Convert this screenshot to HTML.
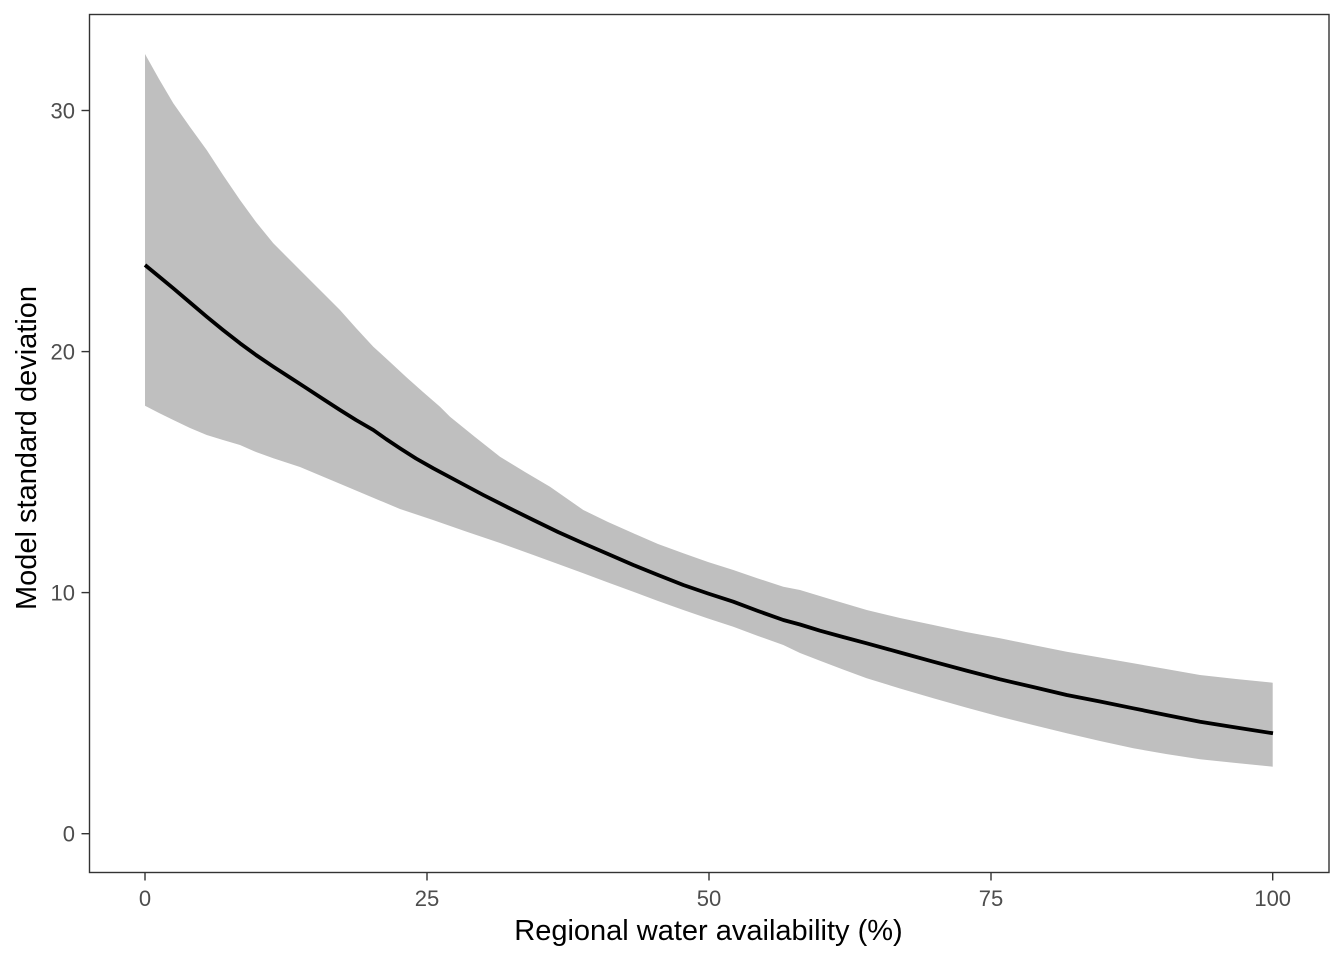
<!DOCTYPE html>
<html>
<head>
<meta charset="utf-8">
<style>
  html, body { margin: 0; padding: 0; background: #ffffff; }
  svg { display: block; }
  text { font-family: "Liberation Sans", Arial, sans-serif; }
</style>
</head>
<body>
<svg width="1344" height="960" viewBox="0 0 1344 960" xmlns="http://www.w3.org/2000/svg">
  <rect x="0" y="0" width="1344" height="960" fill="#ffffff"/>

  <!-- ribbon -->
  <polygon fill="#bfbfbf" stroke="none" points="
    145,54 159,79 173.3,103.3 190,127 206.7,150 223,175 240,200 256,222 273.3,243.3 290,260 306.7,276.7 323,293 340,310 356,328 373.3,346.7
    390,362 406.7,377.5 423,392 440,406.7 450,416.7 475,437 500,456.7 525,472 550,486.7 583.3,510 608,522 633.3,533.3 658,544 683.3,553.3
    708,562 733.3,570 758,578.5 783.3,586.7 800,590 833,600 866.7,610 900,618 933.3,625 966,632 1000,638.3 1033,645 1066.7,651.7 1100,657.5 1133.3,663.3
    1166,669 1200,675 1236,679 1272.7,682.7
    1272.7,766.7 1236,763 1200,759.3 1166,754 1133.3,748.3 1100,741 1066.7,733.3 1033,725 1000,716.7 966,707.5 933.3,698.3 900,688.5 866.7,678.3
    843,669.5 820,660.7 800,653 783.3,645 758,636 733.3,626.7 708,618.5 683.3,610 658,601 633.3,591.7 608,582.5 583.3,573.3 558,564 533.3,555 500,543 466.7,531.7
    433,520 400,509 350,488 300,467 273.3,458.3 256,452 240,445 223,440 206.7,435 190,428 173.3,420 159,413 145,405.7"/>

  <!-- mean line -->
  <polyline fill="none" stroke="#000000" stroke-width="3.8" stroke-linejoin="round" stroke-linecap="butt" points="
    145,265 159,276.5 173.3,288.3 190,302.5 206.7,316.7 223,330 240,343.3 256,355 273.3,366.7 290,377.5 306.7,388.3 323,399 340,410 356,420 373.3,430
    386,439 400,448.3 416,458.5 433.3,468.3 458,481.5 483.3,495 508,507.5 533.3,520 558,532 583.3,543.3 608,554 633.3,565 658,575 683.3,585 708,593.5 733.3,601.7
    758,611 783.3,620 800,624.5 820,630.7 843,637 866.7,643.3 900,652.5 933.3,661.7 966,670.5 1000,679.3 1033,687 1066.7,695 1100,701.5 1133.3,708.3
    1166,715 1200,721.7 1236,727.5 1273,733.3"/>

  <!-- panel border -->
  <rect x="89.5" y="14.5" width="1239.5" height="858" fill="none" stroke="#333333" stroke-width="1.4"/>

  <!-- y ticks -->
  <g stroke="#333333" stroke-width="1.4">
    <line x1="81.5" y1="833.7" x2="89.5" y2="833.7"/>
    <line x1="81.5" y1="592.6" x2="89.5" y2="592.6"/>
    <line x1="81.5" y1="351.6" x2="89.5" y2="351.6"/>
    <line x1="81.5" y1="110.5" x2="89.5" y2="110.5"/>
  </g>
  <g fill="#4d4d4d" font-size="22" text-anchor="end">
    <text x="75" y="841.5">0</text>
    <text x="75" y="600.5">10</text>
    <text x="75" y="359.5">20</text>
    <text x="75" y="118.5">30</text>
  </g>

  <!-- x ticks -->
  <g stroke="#333333" stroke-width="1.4">
    <line x1="145" y1="872.5" x2="145" y2="880.5"/>
    <line x1="427" y1="872.5" x2="427" y2="880.5"/>
    <line x1="709" y1="872.5" x2="709" y2="880.5"/>
    <line x1="991" y1="872.5" x2="991" y2="880.5"/>
    <line x1="1272.7" y1="872.5" x2="1272.7" y2="880.5"/>
  </g>
  <g fill="#4d4d4d" font-size="22" text-anchor="middle">
    <text x="145" y="906">0</text>
    <text x="427" y="906">25</text>
    <text x="709" y="906">50</text>
    <text x="991" y="906">75</text>
    <text x="1272.7" y="906">100</text>
  </g>

  <!-- axis titles -->
  <text x="708.5" y="940" font-size="29" fill="#000000" text-anchor="middle">Regional water availability (%)</text>
  <text transform="translate(36,448) rotate(-90)" x="0" y="0" font-size="29" fill="#000000" text-anchor="middle">Model standard deviation</text>
</svg>
</body>
</html>
